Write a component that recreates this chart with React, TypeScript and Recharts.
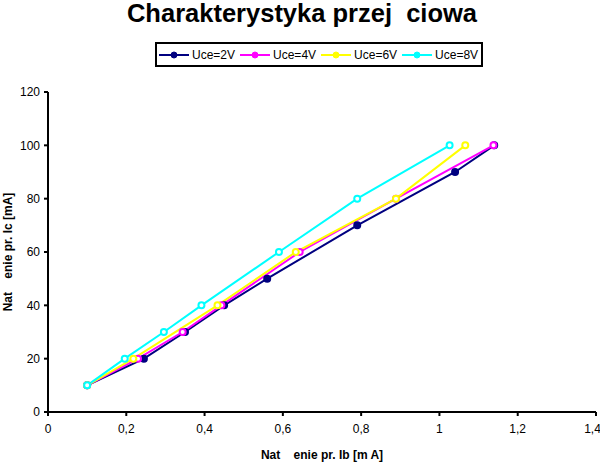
import { Line, LineChart, XAxis, YAxis, Label } from "recharts";

const FONT = '"Liberation Sans", Arial, sans-serif';

const SERIES_NAMES = ["Uce=2V", "Uce=4V", "Uce=6V", "Uce=8V"];
const COLORS = ["#000080", "#FF00FF", "#FFFF00", "#00FFFF"];

const uce2Ib = [0.1, 0.245, 0.35, 0.45, 0.56, 0.79, 1.04, 1.14];
const uce2Ic = [10, 20, 30, 40, 50, 70, 90, 100];
const uce4Ib = [0.1, 0.23, 0.344, 0.443, 0.643, 0.889, 1.138];
const uce4Ic = [10, 20, 30, 40, 60, 80, 100];
const uce6Ib = [0.1, 0.218, 0.433, 0.633, 0.889, 1.066];
const uce6Ic = [10, 20, 40, 60, 80, 100];
const uce8Ib = [0.1, 0.196, 0.296, 0.392, 0.59, 0.79, 1.026];
const uce8Ic = [10, 20, 30, 40, 60, 80, 100];

const X_TICKS = [0, 0.2, 0.4, 0.6, 0.8, 1, 1.2, 1.4];
const Y_TICKS = [0, 20, 40, 60, 80, 100, 120];

const toPoints = (ib: number[], ic: number[]) => ib.map((x, i) => ({ x, y: ic[i] }));

const series = [
  toPoints(uce2Ib, uce2Ic),
  toPoints(uce4Ib, uce4Ic),
  toPoints(uce6Ib, uce6Ic),
  toPoints(uce8Ib, uce8Ic),
];

const fmt = (v: number) => String(v).replace(".", ",");

// the reference lost its Polish letters, so keep the gaps (non-breaking spaces)
const X_LABEL = "Nat\u00a0\u00a0\u00a0\u00a0enie pr. Ib [m A]";
const Y_LABEL = "Nat\u00a0\u00a0\u00a0\u00a0enie pr. Ic [mA]";

function LegendBox() {
  return (
    <div
      style={{
        position: "absolute",
        left: 155,
        top: 42,
        width: 328,
        height: 25,
        boxSizing: "border-box",
        border: "2px solid #000",
        display: "flex",
        alignItems: "center",
        paddingLeft: 2,
        gap: 5,
        fontSize: 12,
        background: "#fff",
      }}
    >
      {SERIES_NAMES.map((name, i) => (
        <span key={name} style={{ display: "inline-flex", alignItems: "center", gap: 3 }}>
          <svg width={30} height={10}>
            <line x1={0} y1={5} x2={30} y2={5} stroke={COLORS[i]} strokeWidth={2} />
            <circle cx={15} cy={5} r={3} fill={COLORS[i]} stroke={COLORS[i]} />
          </svg>
          {name}
        </span>
      ))}
    </div>
  );
}

export default function App() {
  return (
    <div
      style={{
        position: "absolute",
        left: 0,
        top: 0,
        width: 600,
        height: 463,
        background: "#fff",
        fontFamily: FONT,
      }}
    >
      <div
        style={{
          position: "absolute",
          left: 0,
          top: -3,
          width: 604,
          textAlign: "center",
          fontWeight: "bold",
          fontSize: 25.5,
          lineHeight: "32px",
          whiteSpace: "pre",
        }}
      >
        Charakterystyka przej  ciowa
      </div>
      <LineChart
        width={600}
        height={463}
        margin={{ top: 92, right: 4, bottom: 26, left: 8 }}
      >
        <XAxis
          type="number"
          dataKey="x"
          domain={[0, 1.4]}
          ticks={X_TICKS}
          tickFormatter={fmt}
          allowDuplicatedCategory={false}
          stroke="#000"
          strokeWidth={2}
          tickSize={4}
          tickMargin={8}
          height={25}
          tick={{ fill: "#000", fontSize: 12, fontFamily: FONT }}
        >
          <Label
            value={X_LABEL}
            position="insideBottom"
            offset={-22}
            style={{ fontWeight: "bold", fontSize: 12, fill: "#000" }}
          />
        </XAxis>
        <YAxis
          type="number"
          dataKey="y"
          domain={[0, 120]}
          ticks={Y_TICKS}
          width={40}
          stroke="#000"
          strokeWidth={2}
          tickSize={4}
          tickMargin={4}
          tick={{ fill: "#000", fontSize: 12, fontFamily: FONT }}
        >
          <Label
            value={Y_LABEL}
            angle={-90}
            position="insideLeft"
            offset={0}
            style={{ fontWeight: "bold", fontSize: 12, fill: "#000", textAnchor: "middle" }}
          />
        </YAxis>
        {series.map((data, i) => (
          <Line
            key={SERIES_NAMES[i]}
            data={data}
            dataKey="y"
            name={SERIES_NAMES[i]}
            stroke={COLORS[i]}
            strokeWidth={2}
            dot={{ r: 3, fill: i === 0 ? COLORS[i] : "#fff", stroke: COLORS[i], strokeWidth: 2 }}
            isAnimationActive={false}
          />
        ))}
      </LineChart>
      <LegendBox />
    </div>
  );
}
